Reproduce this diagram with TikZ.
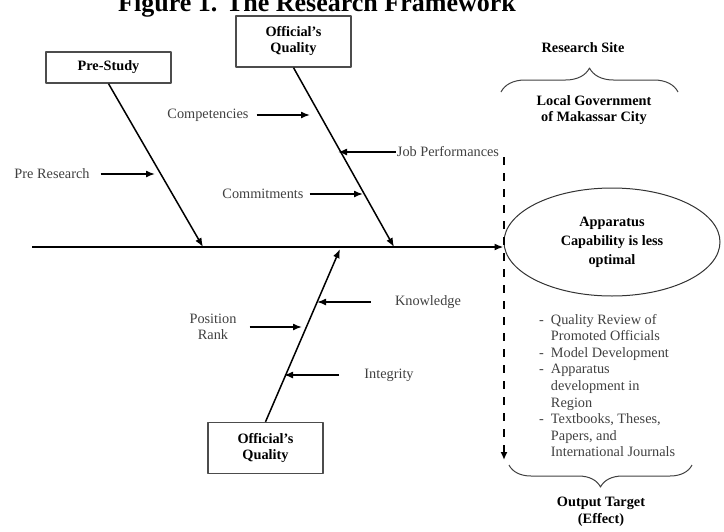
\documentclass[tikz,border=0pt]{standalone}
\usepackage{fontspec}
\setmainfont{Liberation Serif}
\usetikzlibrary{positioning, arrows.meta, shapes, decorations.pathreplacing}
\definecolor{label_gray}{gray}{0.25}
\newcommand{\lblsize}{\fontsize{14.3}{16.6}\selectfont}
\newcommand{\headsize}{\fontsize{26}{30}\selectfont}
\tikzset{
  causebox/.style={draw=black!70, line width=1.3pt, minimum width=115pt, minimum height=51pt,
    align=center, inner sep=2pt, font=\fontsize{14.3}{16}\selectfont\bfseries},
  lbl/.style={inner sep=0pt, align=center, text=label_gray, font=\lblsize},
  bone/.style={-{Latex[length=9pt,width=7pt]}, line width=1.5pt},
  brace/.style={decorate, decoration={brace, amplitude=#1}, line width=1pt, draw=black!75}
}

\begin{document}
\begin{tikzpicture}[x=1pt,y=-1pt,line join=round]
  \useasboundingbox (0,0) rectangle (724,531);
  \clip (0,0) rectangle (724,531);

  % heading, cut at the top like the scan
  \node[anchor=base, font=\headsize\bfseries] (heading) at (317,11) {Figure 1. The Research Framework};

  % cause boxes
  \node[causebox, minimum width=125pt, minimum height=31pt] (prestudy) at (108.5,67.5) {Pre-Study};
  \node[causebox] (qualtop) at (293.5,41.5) {Official’s\\Quality};
  \node[causebox] (qualbot) at (265.5,448) {Official’s\\Quality};

  % effect
  \node[ellipse, draw=black!80, line width=1pt, minimum width=216pt, minimum height=108pt,
    align=center, font=\fontsize{14.3}{19}\selectfont\bfseries] (effect) at (612,242)
    {Apparatus\\Capability is less\\optimal};

  % spine and bones
  \coordinate (tail) at (32,247);
  \draw[bone, line width=1.7pt] (tail) -- (tail -| effect.west);
  \coordinate (preS) at (203,247);
  \coordinate (qualT) at (394,247);
  \coordinate (qualB) at (340,249);
  \draw[bone] (prestudy.south) -- (preS);
  \draw[bone] (qualtop.south) -- (qualT);
  \draw[bone] (qualbot.north) -- (qualB);

  % sub causes
  \node[lbl] (comp) at (208,115) {Competencies};
  \node[lbl] (preR) at (52,174) {Pre Research};
  \node[lbl] (commit) at (263,194) {Commitments};
  \node[lbl] (jobp) at (448,152) {Job Performances};
  \node[lbl] (know) at (428,302) {Knowledge};
  \node[lbl] (integ) at (389,375) {Integrity};
  \node[lbl] (posr) at (213,327) {Position\\Rank};

  \coordinate (c1) at (310,115);
  \coordinate (c2) at (155,174);
  \coordinate (c3) at (363,194);
  \coordinate (c4) at (338,152);
  \coordinate (c5) at (317,302);
  \coordinate (c6) at (284,375);
  \coordinate (c7) at (302,327);
  \draw[bone] ([xshift=8pt]comp.east) -- (c1);
  \draw[bone] ([xshift=11pt]preR.east) -- (c2);
  \draw[bone] ([xshift=6pt]commit.east) -- (c3);
  \draw[bone] ([xshift=-1pt]jobp.west) -- (c4);
  \draw[bone] ([xshift=-24pt]know.west) -- (c5);
  \draw[bone] ([xshift=-25pt]integ.west) -- (c6);
  \draw[bone] ([xshift=13pt]posr.east) -- (c7);

  % research site
  \node[font=\fontsize{14.3}{16}\selectfont\bfseries] (site) at (583,48) {Research Site};
  \draw[brace=24pt] (501,92) -- (678,92);
  \node[align=center, font=\fontsize{14.3}{16}\selectfont\bfseries] (makassar) at (594,110)
    {Local Government\\of Makassar City};

  % dashed output arrow
  \coordinate (dtop) at (504,157);
  \coordinate (dbot) at (504,460);
  \draw[-{Latex[length=8pt,width=7pt]}, line width=2pt, dash pattern=on 8pt off 8pt] (dtop) -- (dbot);

  % outputs
  \node[anchor=base west, inner sep=0pt, text=label_gray, font=\lblsize] (outputs) at (539,324)
    {\begin{tabular}[t]{@{}l@{\hspace{7pt}}l@{}}
      - & Quality Review of\\
        & Promoted Officials\\
      - & Model Development\\
      - & Apparatus\\
        & development in\\
        & Region\\
      - & Textbooks, Theses,\\
        & Papers, and\\
        & International Journals
    \end{tabular}};
  \draw[brace=22pt] (692,465) -- (509,465);
  \node[align=center, font=\fontsize{14.3}{17}\selectfont\bfseries] (target) at (601,512)
    {Output Target\\(Effect)};
\end{tikzpicture}
\end{document}
